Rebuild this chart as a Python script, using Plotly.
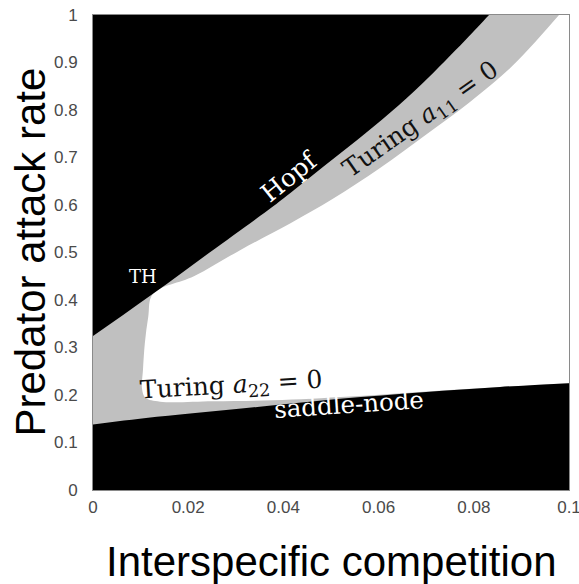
import plotly.graph_objects as go

# Boundary curves (x: interspecific competition, y: predator attack rate)
hopf_x = [0.0, 0.0126, 0.0245, 0.0366, 0.0414, 0.0483, 0.0555, 0.0624, 0.0693, 0.0782, 0.0832]
hopf_y = [0.324, 0.413, 0.500, 0.588, 0.625, 0.680, 0.737, 0.794, 0.857, 0.947, 1.0]

turing11_x = [0.0126, 0.0212, 0.0309, 0.0414, 0.0504, 0.0603, 0.0698, 0.0792, 0.0876, 0.0929, 0.0979]
turing11_y = [0.413, 0.450, 0.505, 0.561, 0.613, 0.678, 0.747, 0.817, 0.888, 0.943, 1.0]

turing22_x = [0.0126, 0.0116, 0.0109, 0.0105, 0.0103, 0.0110, 0.0141, 0.0252, 0.0378, 0.0540, 0.0693, 0.0855, 0.1]
turing22_y = [0.413, 0.364, 0.310, 0.253, 0.213, 0.194, 0.186, 0.187, 0.189, 0.197, 0.207, 0.217, 0.225]

saddle_x = [0.0, 0.0134, 0.0345, 0.0519, 0.0693, 0.0855, 0.1]
saddle_y = [0.138, 0.154, 0.175, 0.192, 0.206, 0.217, 0.225]

x_ticks = [0, 0.02, 0.04, 0.06, 0.08, 0.1]
x_ticktext = ["0", "0.02", "0.04", "0.06", "0.08", "0.1"]
y_ticks = [0, 0.1, 0.2, 0.3, 0.4, 0.5, 0.6, 0.7, 0.8, 0.9, 1.0]
y_ticktext = ["0", "0.1", "0.2", "0.3", "0.4", "0.5", "0.6", "0.7", "0.8", "0.9", "1"]

X_MIN, X_MAX, Y_MIN, Y_MAX = 0.0, 0.1, 0.0, 1.0
GRAY = "#c0c0c0"


def extend(xs, ys, at_start=True, at_end=True, frac=0.5):
    """Extrapolate a curve a little beyond its ends along its end tangents (outside the plot)."""
    xs, ys = list(xs), list(ys)
    if at_start:
        dx, dy = xs[0] - xs[1], ys[0] - ys[1]
        xs.insert(0, xs[0] + dx * frac)
        ys.insert(0, ys[0] + dy * frac)
    if at_end:
        dx, dy = xs[-1] - xs[-2], ys[-1] - ys[-2]
        xs.append(xs[-1] + dx * frac)
        ys.append(ys[-1] + dy * frac)
    return xs, ys


pad_x = (X_MAX - X_MIN) * 0.15
pad_y = (Y_MAX - Y_MIN) * 0.15

fig = go.Figure()
spline = dict(width=0, shape="spline", smoothing=1.0)

# White (stable) region: Turing a11 (upper) + Turing a22 (left / lower)
t11x, t11y = extend(turing11_x, turing11_y, at_start=False, at_end=True, frac=1.0)
t22x, t22y = extend(turing22_x, turing22_y, at_start=False, at_end=True, frac=1.0)
white_x = t11x + [X_MAX + pad_x, X_MAX + pad_x] + t22x[::-1]
white_y = t11y + [Y_MAX + pad_y, t22y[-1]] + t22y[::-1]
fig.add_trace(go.Scatter(x=white_x, y=white_y, fill="toself", fillcolor="white",
                         mode="lines", line=dict(color="white", **spline), hoverinfo="skip"))

# Black region above Hopf
hx, hy = extend(hopf_x, hopf_y, frac=1.0)
top_x = [X_MIN - pad_x, X_MIN - pad_x] + hx + [X_MIN - pad_x]
top_y = [Y_MAX + pad_y, hy[0]] + hy + [Y_MAX + pad_y]
fig.add_trace(go.Scatter(x=top_x, y=top_y, fill="toself", fillcolor="black",
                         mode="lines", line=dict(color="black", **spline), hoverinfo="skip"))

# Black region below saddle-node
sx, sy = extend(saddle_x, saddle_y, frac=1.0)
bot_x = [sx[0]] + sx + [sx[-1], sx[0]]
bot_y = [Y_MIN - pad_y] + sy + [Y_MIN - pad_y, Y_MIN - pad_y]
fig.add_trace(go.Scatter(x=bot_x, y=bot_y, fill="toself", fillcolor="black",
                         mode="lines", line=dict(color="black", **spline), hoverinfo="skip"))

serif = "DejaVu Serif"
annotations = [
    dict(x=0.0106, y=0.4505, text="TH", font=dict(family=serif, size=18, color="white"), textangle=0),
    dict(x=0.0412, y=0.661, text="Hopf", font=dict(family=serif, size=25, color="white"), textangle=-39),
    dict(x=0.0690, y=0.778, text="Turing <i>a</i><sub>11</sub> = 0",
         font=dict(family=serif, size=25, color="#111111"), textangle=-35),
    dict(x=0.0292, y=0.219, text="Turing <i>a</i><sub>22</sub> = 0",
         font=dict(family=serif, size=25, color="#111111"), textangle=-3.5),
    dict(x=0.0538, y=0.180, text="saddle-node", font=dict(family=serif, size=24.5, color="white"),
         textangle=-3.8),
]
for a in annotations:
    a.update(xref="x", yref="y", showarrow=False, xanchor="center", yanchor="middle")

annotations.append(dict(xref="paper", yref="paper", x=0, y=0.5, xshift=-63, xanchor="center",
                        yanchor="middle", textangle=-90, showarrow=False, text="Predator attack rate",
                        font=dict(family="Liberation Sans", size=42, color="black")))
annotations.append(dict(xref="paper", yref="paper", x=0.5, y=0, yshift=-71, xanchor="center",
                        yanchor="middle", showarrow=False, text="Interspecific competition",
                        font=dict(family="Liberation Sans", size=42, color="black")))

axis_common = dict(showgrid=False, zeroline=False, showline=True, mirror=True, linecolor="#8a8a8a",
                   linewidth=1, ticks="", ticklabeloverflow="allow", automargin=False,
                   tickfont=dict(family="Liberation Sans", size=17, color="#4a4a4a"))

fig.update_layout(
    width=579, height=584,
    margin=dict(l=93, r=10, t=15, b=94, autoexpand=False),
    paper_bgcolor="white", plot_bgcolor=GRAY,
    showlegend=False,
    xaxis=dict(range=[X_MIN, X_MAX], tickvals=x_ticks, ticktext=x_ticktext, ticklabelstandoff=2,
               **axis_common),
    yaxis=dict(range=[Y_MIN, Y_MAX], tickvals=y_ticks, ticktext=y_ticktext, ticklabelstandoff=11,
               **axis_common),
    annotations=annotations,
)

fig.write_html("out.html")
